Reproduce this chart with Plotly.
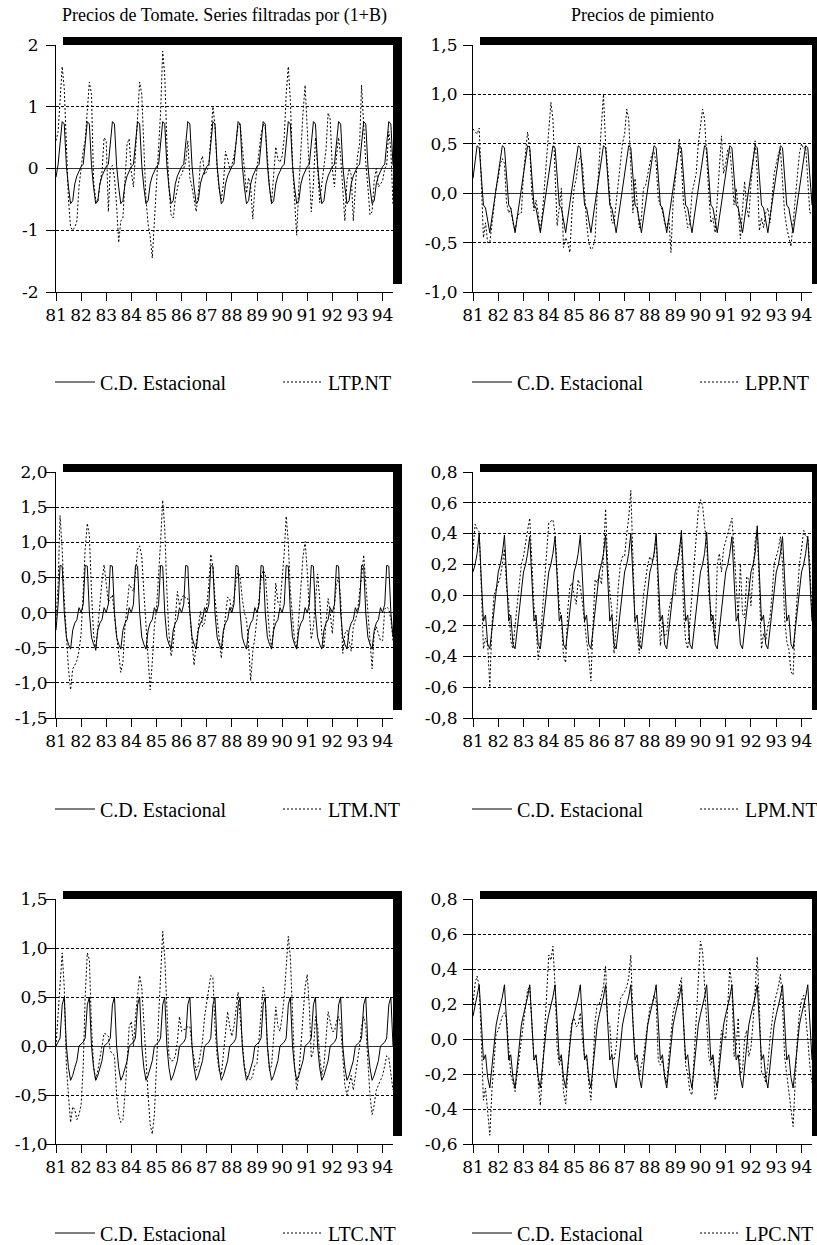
import pandas as pd
import plotly.graph_objects as go

W, H = 817, 1245

# ---------------- data (monthly, 1981M01 .. 1994M06) ----------------
YEAR_LABELS = ["81", "82", "83", "84", "85", "86", "87", "88", "89", "90", "91", "92", "93", "94"]
DATES = pd.date_range("1981-01-01", periods=162, freq="MS")
YEAR_TICKS = pd.date_range("1981-01-01", periods=14, freq="YS")

CD_LTP = [
    -0.14, 0.07, 0.40, 0.76, 0.72, 0.05, -0.30, -0.57, -0.52, -0.25, -0.12, -0.03,
    0.03, 0.07, 0.40, 0.76, 0.72, 0.05, -0.30, -0.57, -0.52, -0.25, -0.12, -0.03,
    0.03, 0.07, 0.40, 0.76, 0.72, 0.05, -0.30, -0.57, -0.52, -0.25, -0.12, -0.03,
    0.03, 0.07, 0.40, 0.76, 0.72, 0.05, -0.30, -0.57, -0.52, -0.25, -0.12, -0.03,
    0.03, 0.07, 0.40, 0.76, 0.72, 0.05, -0.30, -0.57, -0.52, -0.25, -0.12, -0.03,
    0.03, 0.07, 0.40, 0.76, 0.72, 0.05, -0.30, -0.57, -0.52, -0.25, -0.12, -0.03,
    0.03, 0.07, 0.40, 0.76, 0.72, 0.05, -0.30, -0.57, -0.52, -0.25, -0.12, -0.03,
    0.03, 0.07, 0.40, 0.76, 0.72, 0.05, -0.30, -0.57, -0.52, -0.25, -0.12, -0.03,
    0.03, 0.07, 0.40, 0.76, 0.72, 0.05, -0.30, -0.57, -0.52, -0.25, -0.12, -0.03,
    0.03, 0.07, 0.40, 0.76, 0.72, 0.05, -0.30, -0.57, -0.52, -0.25, -0.12, -0.03,
    0.03, 0.07, 0.40, 0.76, 0.72, 0.05, -0.30, -0.57, -0.52, -0.25, -0.12, -0.03,
    0.03, 0.07, 0.40, 0.76, 0.72, 0.05, -0.30, -0.57, -0.52, -0.25, -0.12, -0.03,
    0.03, 0.07, 0.40, 0.76, 0.72, 0.05, -0.30, -0.57, -0.52, -0.25, -0.12, -0.03,
    0.03, 0.07, 0.40, 0.76, 0.72, 0.05,
]
LTP_NT = [
    0.45, 0.60, 1.10, 1.65, 1.30, 0.20, -0.50, -0.95, -1.00, -0.95, -0.85, -0.30,
    0.00, 0.30, 0.45, 1.00, 1.40, 1.20, -0.20, -0.50, -0.55, -0.25, -0.05, 0.50,
    0.45, -0.70, 0.00, 0.05, -0.15, -0.60, -1.20, -0.85, -0.80, -0.20, 0.40, 0.48,
    -0.05, -0.30, 0.30, 0.90, 1.40, 1.20, 0.30, -0.50, -0.90, -1.10, -1.45, -0.90,
    -0.20, 0.30, 0.90, 1.90, 1.50, 0.40, -0.30, -0.75, -0.80, -0.50, -0.30, -0.15,
    -0.10, 0.00, 0.10, 0.45, -0.15, -0.30, -0.50, -0.70, -0.40, 0.10, 0.20, -0.10,
    -0.05, 0.05, 0.50, 1.00, 0.70, 0.00, -0.35, -0.50, -0.25, 0.28, 0.15, 0.00,
    0.05, 0.20, 0.40, 0.70, 0.72, 0.40, 0.00, -0.40, -0.15, -0.30, -0.82, -0.30,
    0.00, 0.30, 0.55, 0.72, 0.65, 0.20, -0.30, -0.55, -0.10, 0.35, 0.15, 0.10,
    0.20, 0.50, 1.20, 1.65, 1.10, 0.10, -0.50, -1.08, -0.30, 0.40, 0.90, 1.35,
    0.60, -0.20, -0.70, -0.25, 0.50, 0.05, -0.55, -0.25, 0.00, 0.30, 0.90, 0.80,
    0.00, -0.30, 0.20, 0.50, 0.20, -0.30, -0.85, -0.20, 0.00, -0.10, -0.85, -0.30,
    0.20, 0.40, 1.35, 0.70, 0.10, -0.30, -0.75, -0.70, -0.20, 0.00, -0.30, -0.25,
    -0.20, 0.00, 0.05, 0.60, 0.30, -0.60,
]

CD_LPP = [
    0.15, 0.33, 0.48, 0.46, 0.17, -0.12, -0.15, -0.28, -0.40, -0.25, -0.10, 0.04,
    0.18, 0.33, 0.48, 0.46, 0.17, -0.12, -0.15, -0.28, -0.40, -0.25, -0.10, 0.04,
    0.18, 0.33, 0.48, 0.46, 0.17, -0.12, -0.15, -0.28, -0.40, -0.25, -0.10, 0.04,
    0.18, 0.33, 0.48, 0.46, 0.17, -0.12, -0.15, -0.28, -0.40, -0.25, -0.10, 0.04,
    0.18, 0.33, 0.48, 0.46, 0.17, -0.12, -0.15, -0.28, -0.40, -0.25, -0.10, 0.04,
    0.18, 0.33, 0.48, 0.46, 0.17, -0.12, -0.15, -0.28, -0.40, -0.25, -0.10, 0.04,
    0.18, 0.33, 0.48, 0.46, 0.17, -0.12, -0.15, -0.28, -0.40, -0.25, -0.10, 0.04,
    0.18, 0.33, 0.48, 0.46, 0.17, -0.12, -0.15, -0.28, -0.40, -0.25, -0.10, 0.04,
    0.18, 0.33, 0.48, 0.46, 0.17, -0.12, -0.15, -0.28, -0.40, -0.25, -0.10, 0.04,
    0.18, 0.33, 0.48, 0.46, 0.17, -0.12, -0.15, -0.28, -0.40, -0.25, -0.10, 0.04,
    0.18, 0.33, 0.48, 0.46, 0.17, -0.12, -0.15, -0.28, -0.40, -0.25, -0.10, 0.04,
    0.18, 0.33, 0.48, 0.46, 0.17, -0.12, -0.15, -0.28, -0.40, -0.25, -0.10, 0.04,
    0.18, 0.33, 0.48, 0.46, 0.17, -0.12, -0.15, -0.28, -0.40, -0.25, -0.10, 0.04,
    0.18, 0.33, 0.48, 0.46, 0.17, -0.12,
]
LPP_NT = [
    0.65, 0.62, 0.60, 0.66, 0.10, -0.45, -0.30, -0.50, -0.50, -0.30, -0.10, 0.05,
    0.15, 0.30, 0.35, 0.30, -0.10, -0.20, -0.15, -0.30, -0.38, -0.25, -0.20, -0.20,
    0.20, 0.45, 0.62, 0.45, 0.00, -0.18, -0.07, -0.20, -0.38, -0.20, 0.10, 0.40,
    0.60, 0.92, 0.75, 0.20, -0.33, -0.15, 0.05, -0.55, -0.45, -0.50, -0.60, -0.20,
    0.05, 0.15, 0.30, 0.38, 0.30, 0.00, -0.30, -0.50, -0.57, -0.55, -0.45, 0.00,
    0.40, 0.70, 1.00, 0.50, 0.25, -0.05, -0.30, -0.30, -0.10, 0.10, 0.30, 0.50,
    0.60, 0.85, 0.75, 0.30, -0.20, 0.15, -0.10, -0.35, -0.25, 0.05, 0.08, 0.20,
    0.30, 0.40, 0.42, 0.30, -0.05, -0.12, -0.18, -0.30, -0.35, -0.25, -0.60, -0.10,
    0.10, 0.35, 0.55, 0.30, -0.10, -0.20, -0.35, -0.30, 0.00, 0.10, 0.20, 0.50,
    0.70, 0.85, 0.75, 0.30, 0.00, -0.30, -0.25, -0.40, -0.10, 0.20, 0.58, 0.20,
    0.30, 0.45, 0.45, 0.20, -0.12, 0.05, -0.15, -0.46, -0.20, 0.12, -0.15, -0.25,
    0.10, 0.30, 0.53, 0.20, -0.38, -0.25, -0.35, -0.20, -0.15, -0.30, 0.00, 0.20,
    0.30, 0.40, 0.45, 0.10, -0.20, -0.35, -0.45, -0.54, -0.30, -0.05, 0.20, 0.40,
    0.50, 0.45, 0.47, 0.10, -0.20, -0.20,
]

CD_LTM = [
    -0.25, 0.12, 0.67, 0.66, 0.00, -0.35, -0.45, -0.52, -0.25, -0.15, -0.10, 0.07,
    0.00, 0.12, 0.67, 0.66, 0.00, -0.35, -0.45, -0.52, -0.25, -0.15, -0.10, 0.07,
    0.00, 0.12, 0.67, 0.66, 0.00, -0.35, -0.45, -0.52, -0.25, -0.15, -0.10, 0.07,
    0.00, 0.12, 0.67, 0.66, 0.00, -0.35, -0.45, -0.52, -0.25, -0.15, -0.10, 0.07,
    0.00, 0.12, 0.67, 0.66, 0.00, -0.35, -0.45, -0.52, -0.25, -0.15, -0.10, 0.07,
    0.00, 0.12, 0.67, 0.66, 0.00, -0.35, -0.45, -0.52, -0.25, -0.15, -0.10, 0.07,
    0.00, 0.12, 0.67, 0.66, 0.00, -0.35, -0.45, -0.52, -0.25, -0.15, -0.10, 0.07,
    0.00, 0.12, 0.67, 0.66, 0.00, -0.35, -0.45, -0.52, -0.25, -0.15, -0.10, 0.07,
    0.00, 0.12, 0.67, 0.66, 0.00, -0.35, -0.45, -0.52, -0.25, -0.15, -0.10, 0.07,
    0.00, 0.12, 0.67, 0.66, 0.00, -0.35, -0.45, -0.52, -0.25, -0.15, -0.10, 0.07,
    0.00, 0.12, 0.67, 0.66, 0.00, -0.35, -0.45, -0.52, -0.25, -0.15, -0.10, 0.07,
    0.00, 0.12, 0.67, 0.66, 0.00, -0.35, -0.45, -0.52, -0.25, -0.15, -0.10, 0.07,
    0.00, 0.12, 0.67, 0.66, 0.00, -0.35, -0.45, -0.52, -0.25, -0.15, -0.10, 0.07,
    0.00, 0.12, 0.67, 0.66, 0.00, -0.35,
]
LTM_NT = [
    -0.10, 0.40, 1.38, 0.90, 0.20, -0.40, -0.80, -1.10, -0.80, -0.75, -0.68, -0.55,
    -0.30, 0.30, 0.90, 1.27, 1.10, 0.30, -0.30, -0.55, -0.20, 0.20, 0.45, 0.68,
    0.40, 0.15, 0.20, 0.25, -0.05, -0.35, -0.60, -0.85, -0.70, -0.20, 0.10, 0.40,
    0.35, 0.30, 0.55, 0.90, 0.95, 0.80, 0.30, -0.20, -0.60, -1.10, -0.70, -0.20,
    0.05, 0.50, 1.00, 1.60, 1.20, 0.30, -0.30, -0.62, -0.45, -0.10, 0.30, 0.10,
    0.20, 0.25, 0.20, 0.20, 0.00, -0.40, -0.75, -0.45, -0.20, 0.02, -0.20, -0.15,
    0.10, 0.40, 0.83, 0.65, 0.20, -0.10, -0.35, -0.65, -0.30, 0.00, 0.22, 0.20,
    0.00, 0.20, 0.45, 0.60, 0.50, 0.20, 0.00, -0.10, -0.45, -0.97, -0.55, -0.35,
    -0.10, 0.20, 0.50, 0.60, 0.55, 0.10, -0.30, -0.50, -0.20, 0.42, 0.15, 0.10,
    0.45, 0.85, 1.37, 1.00, 0.30, -0.10, -0.40, -0.50, -0.05, 0.50, 0.80, 1.01,
    0.60, 0.00, -0.38, -0.20, 0.15, 0.55, 0.20, -0.30, -0.50, -0.10, 0.20, 0.00,
    -0.30, 0.10, 0.40, 0.50, 0.20, -0.58, -0.30, -0.25, -0.40, -0.55, -0.20, -0.10,
    0.00, 0.30, 0.50, 0.82, 0.40, 0.00, -0.35, -0.80, -0.30, -0.20, -0.30, -0.40,
    -0.40, 0.05, 0.08, 0.05, -0.10, -0.40,
]

CD_LPM = [
    0.15, 0.20, 0.27, 0.40, 0.10, -0.17, -0.13, -0.32, -0.35, -0.22, -0.10, 0.03,
    0.15, 0.20, 0.27, 0.39, 0.10, -0.17, -0.13, -0.32, -0.35, -0.22, -0.10, 0.03,
    0.15, 0.20, 0.27, 0.38, 0.10, -0.17, -0.13, -0.32, -0.35, -0.22, -0.10, 0.03,
    0.15, 0.20, 0.27, 0.38, 0.10, -0.17, -0.13, -0.32, -0.35, -0.22, -0.10, 0.03,
    0.15, 0.20, 0.27, 0.39, 0.10, -0.17, -0.13, -0.32, -0.35, -0.22, -0.10, 0.03,
    0.15, 0.20, 0.27, 0.39, 0.10, -0.17, -0.13, -0.32, -0.35, -0.22, -0.10, 0.03,
    0.15, 0.20, 0.27, 0.40, 0.10, -0.17, -0.13, -0.32, -0.35, -0.22, -0.10, 0.03,
    0.15, 0.20, 0.27, 0.40, 0.10, -0.17, -0.13, -0.32, -0.35, -0.22, -0.10, 0.03,
    0.15, 0.20, 0.27, 0.42, 0.10, -0.17, -0.13, -0.32, -0.35, -0.22, -0.10, 0.03,
    0.15, 0.20, 0.27, 0.41, 0.10, -0.17, -0.13, -0.32, -0.35, -0.22, -0.10, 0.03,
    0.15, 0.20, 0.27, 0.38, 0.10, -0.17, -0.13, -0.32, -0.35, -0.22, -0.10, 0.03,
    0.15, 0.20, 0.27, 0.45, 0.10, -0.17, -0.13, -0.32, -0.35, -0.22, -0.10, 0.03,
    0.15, 0.20, 0.27, 0.38, 0.10, -0.17, -0.13, -0.32, -0.35, -0.22, -0.10, 0.03,
    0.15, 0.20, 0.27, 0.38, 0.10, -0.17,
]
LPM_NT = [
    0.30, 0.46, 0.43, 0.41, 0.05, -0.35, -0.28, -0.32, -0.60, -0.20, 0.00, 0.04,
    0.08, 0.12, 0.20, 0.30, 0.05, -0.05, -0.30, -0.35, -0.20, -0.05, 0.10, 0.20,
    0.25, 0.35, 0.42, 0.50, 0.20, -0.07, -0.20, -0.42, -0.30, -0.10, 0.10, 0.30,
    0.47, 0.48, 0.49, 0.40, 0.20, -0.08, -0.15, -0.40, -0.44, -0.10, 0.05, 0.08,
    0.00, -0.06, 0.10, 0.05, -0.05, -0.20, -0.30, -0.40, -0.56, -0.20, 0.10, 0.08,
    0.13, 0.07, 0.25, 0.56, 0.20, 0.02, -0.10, -0.38, -0.20, 0.05, 0.20, 0.25,
    0.25, 0.40, 0.50, 0.68, 0.20, -0.20, -0.25, -0.38, -0.20, 0.00, 0.10, 0.20,
    0.25, 0.22, 0.25, 0.38, 0.00, -0.33, -0.17, -0.27, -0.25, -0.10, -0.03, 0.00,
    0.00, 0.20, 0.30, 0.38, -0.10, -0.30, -0.35, -0.20, 0.00, 0.20, 0.40, 0.55,
    0.62, 0.58, 0.45, 0.35, 0.00, -0.10, -0.20, -0.30, 0.20, 0.27, 0.15, 0.30,
    0.35, 0.40, 0.45, 0.50, 0.30, 0.10, -0.15, 0.20, -0.12, -0.15, 0.12, 0.10,
    -0.07, 0.15, 0.35, 0.42, 0.00, -0.35, -0.25, -0.30, -0.20, -0.15, 0.00, 0.20,
    0.25, 0.30, 0.38, 0.20, -0.15, -0.30, -0.35, -0.50, -0.52, -0.20, 0.00, 0.20,
    0.30, 0.42, 0.38, 0.38, 0.20, -0.15,
]

CD_LTC = [
    0.00, 0.04, 0.08, 0.42, 0.50, 0.00, -0.22, -0.35, -0.30, -0.22, -0.15, 0.00,
    0.02, 0.04, 0.08, 0.42, 0.50, 0.00, -0.22, -0.35, -0.30, -0.22, -0.15, 0.00,
    0.02, 0.04, 0.08, 0.42, 0.50, 0.00, -0.22, -0.35, -0.30, -0.22, -0.15, 0.00,
    0.02, 0.04, 0.08, 0.42, 0.50, 0.00, -0.22, -0.35, -0.30, -0.22, -0.15, 0.00,
    0.02, 0.04, 0.08, 0.42, 0.50, 0.00, -0.22, -0.35, -0.30, -0.22, -0.15, 0.00,
    0.02, 0.04, 0.08, 0.42, 0.50, 0.00, -0.22, -0.35, -0.30, -0.22, -0.15, 0.00,
    0.02, 0.04, 0.08, 0.42, 0.50, 0.00, -0.22, -0.35, -0.30, -0.22, -0.15, 0.00,
    0.02, 0.04, 0.08, 0.42, 0.50, 0.00, -0.22, -0.35, -0.30, -0.22, -0.15, 0.00,
    0.02, 0.04, 0.08, 0.42, 0.50, 0.00, -0.22, -0.35, -0.30, -0.22, -0.15, 0.00,
    0.02, 0.04, 0.08, 0.42, 0.50, 0.00, -0.22, -0.35, -0.30, -0.22, -0.15, 0.00,
    0.02, 0.04, 0.08, 0.42, 0.50, 0.00, -0.22, -0.35, -0.30, -0.22, -0.15, 0.00,
    0.02, 0.04, 0.08, 0.42, 0.50, 0.00, -0.22, -0.35, -0.30, -0.22, -0.15, 0.00,
    0.02, 0.04, 0.08, 0.42, 0.50, 0.00, -0.22, -0.35, -0.30, -0.22, -0.15, 0.00,
    0.02, 0.04, 0.08, 0.42, 0.50, 0.00,
]
LTC_NT = [
    0.00, 0.30, 0.60, 0.95, 0.60, -0.20, -0.50, -0.78, -0.62, -0.65, -0.75, -0.70,
    -0.60, -0.20, 0.50, 0.95, 0.88, 0.20, -0.20, -0.35, -0.25, -0.10, 0.00, 0.13,
    0.12, 0.10, -0.05, -0.08, -0.10, -0.50, -0.70, -0.78, -0.75, -0.50, -0.10, 0.20,
    0.25, 0.00, 0.30, 0.50, 0.72, 0.60, 0.20, -0.20, -0.50, -0.80, -0.90, -0.70,
    -0.10, 0.30, 0.70, 1.17, 0.90, 0.30, -0.10, -0.15, -0.15, -0.10, 0.05, 0.30,
    0.15, 0.17, 0.17, 0.20, 0.20, 0.00, -0.15, -0.25, -0.20, -0.05, 0.05, 0.30,
    0.45, 0.60, 0.72, 0.70, 0.20, -0.10, -0.25, -0.30, -0.10, 0.10, 0.35, 0.20,
    0.10, 0.20, 0.35, 0.55, 0.30, 0.00, -0.20, -0.30, -0.33, -0.35, -0.30, -0.20,
    -0.18, 0.10, 0.40, 0.60, 0.50, 0.00, -0.25, -0.20, 0.10, 0.40, 0.20, 0.15,
    0.30, 0.50, 0.80, 1.12, 0.90, 0.30, -0.20, -0.45, -0.30, 0.00, 0.30, 0.60,
    0.73, 0.40, -0.12, -0.05, 0.30, 0.20, -0.10, -0.30, -0.20, 0.10, 0.35, 0.25,
    0.15, 0.15, 0.25, 0.30, 0.20, -0.10, -0.40, -0.50, -0.40, -0.30, -0.45, -0.30,
    -0.15, 0.00, 0.20, 0.30, 0.20, -0.20, -0.50, -0.70, -0.60, -0.45, -0.40, -0.35,
    -0.30, -0.20, -0.10, -0.12, -0.30, -0.45,
]

CD_LPC = [
    0.13, 0.19, 0.24, 0.31, 0.10, -0.12, -0.09, -0.22, -0.28, -0.15, -0.02, 0.08,
    0.14, 0.19, 0.24, 0.31, 0.10, -0.12, -0.09, -0.22, -0.28, -0.15, -0.02, 0.08,
    0.14, 0.19, 0.24, 0.31, 0.10, -0.12, -0.09, -0.22, -0.28, -0.15, -0.02, 0.08,
    0.14, 0.19, 0.24, 0.31, 0.10, -0.12, -0.09, -0.22, -0.28, -0.15, -0.02, 0.08,
    0.14, 0.19, 0.24, 0.31, 0.10, -0.12, -0.09, -0.22, -0.28, -0.15, -0.02, 0.08,
    0.14, 0.19, 0.24, 0.31, 0.10, -0.12, -0.09, -0.22, -0.28, -0.15, -0.02, 0.08,
    0.14, 0.19, 0.24, 0.31, 0.10, -0.12, -0.09, -0.22, -0.28, -0.15, -0.02, 0.08,
    0.14, 0.19, 0.24, 0.31, 0.10, -0.12, -0.09, -0.22, -0.28, -0.15, -0.02, 0.08,
    0.14, 0.19, 0.24, 0.31, 0.10, -0.12, -0.09, -0.22, -0.28, -0.15, -0.02, 0.08,
    0.14, 0.19, 0.24, 0.31, 0.10, -0.12, -0.09, -0.22, -0.28, -0.15, -0.02, 0.08,
    0.14, 0.19, 0.24, 0.31, 0.10, -0.12, -0.09, -0.22, -0.28, -0.15, -0.02, 0.08,
    0.14, 0.19, 0.24, 0.31, 0.10, -0.12, -0.09, -0.22, -0.28, -0.15, -0.02, 0.08,
    0.14, 0.19, 0.24, 0.31, 0.10, -0.12, -0.09, -0.22, -0.28, -0.15, -0.02, 0.08,
    0.14, 0.19, 0.24, 0.31, 0.10, -0.12,
]
LPC_NT = [
    0.20, 0.32, 0.36, 0.30, 0.00, -0.35, -0.28, -0.40, -0.55, -0.30, -0.10, 0.03,
    0.05, 0.10, 0.13, 0.15, 0.12, -0.05, -0.20, -0.25, -0.30, -0.20, -0.10, 0.00,
    0.10, 0.20, 0.28, 0.30, 0.05, -0.12, -0.10, -0.25, -0.38, -0.20, 0.05, 0.25,
    0.48, 0.45, 0.53, 0.30, -0.05, -0.15, -0.10, -0.30, -0.37, -0.20, 0.00, 0.10,
    0.12, 0.07, 0.08, 0.15, 0.00, -0.10, -0.10, -0.25, -0.35, -0.15, 0.10, 0.20,
    0.20, 0.25, 0.30, 0.42, 0.10, 0.08, -0.10, -0.12, -0.05, 0.10, 0.23, 0.25,
    0.27, 0.30, 0.35, 0.48, 0.10, -0.10, -0.15, -0.20, -0.15, -0.10, 0.00, 0.10,
    0.18, 0.20, 0.25, 0.22, -0.12, -0.15, -0.12, -0.20, -0.25, -0.10, 0.05, 0.15,
    0.20, 0.22, 0.30, 0.35, 0.10, -0.15, -0.20, -0.30, -0.32, -0.10, 0.10, 0.35,
    0.56, 0.50, 0.30, 0.10, -0.10, -0.15, -0.10, -0.35, -0.30, -0.10, 0.05, 0.02,
    0.00, 0.20, 0.41, 0.30, -0.10, -0.05, 0.12, -0.20, -0.18, 0.00, 0.05, -0.10,
    -0.05, 0.10, 0.30, 0.47, 0.20, -0.20, -0.20, -0.25, -0.15, 0.00, 0.10, 0.20,
    0.25, 0.30, 0.37, 0.20, -0.10, -0.20, -0.30, -0.40, -0.50, -0.25, 0.00, 0.15,
    0.22, 0.25, 0.15, 0.00, -0.15, -0.25,
]

TITLES = ["Precios de Tomate. Series filtradas por (1+B)", "Precios de pimiento"]
SERIES_NAMES = ["LTP.NT", "LPP.NT", "LTM.NT", "LPM.NT", "LTC.NT", "LPC.NT"]
SEASONAL_NAME = "C.D. Estacional"

Y_TICKS = [
    ([-2, -1, 0, 1, 2], ["-2", "-1", "0", "1", "2"]),
    ([-1.0, -0.5, 0.0, 0.5, 1.0, 1.5], ["-1,0", "-0,5", "0,0", "0,5", "1,0", "1,5"]),
    ([-1.5, -1.0, -0.5, 0.0, 0.5, 1.0, 1.5, 2.0],
     ["-1,5", "-1,0", "-0,5", "0,0", "0,5", "1,0", "1,5", "2,0"]),
    ([-0.8, -0.6, -0.4, -0.2, 0.0, 0.2, 0.4, 0.6, 0.8],
     ["-0,8", "-0,6", "-0,4", "-0,2", "0,0", "0,2", "0,4", "0,6", "0,8"]),
    ([-1.0, -0.5, 0.0, 0.5, 1.0, 1.5], ["-1,0", "-0,5", "0,0", "0,5", "1,0", "1,5"]),
    ([-0.6, -0.4, -0.2, 0.0, 0.2, 0.4, 0.6, 0.8],
     ["-0,6", "-0,4", "-0,2", "0,0", "0,2", "0,4", "0,6", "0,8"]),
]
Y_RANGES = [[-2, 2], [-1.0, 1.5], [-1.5, 2.0], [-0.8, 0.8], [-1.0, 1.5], [-0.6, 0.8]]

SEASONALS = [CD_LTP, CD_LPP, CD_LTM, CD_LPM, CD_LTC, CD_LPC]
ACTUALS = [LTP_NT, LPP_NT, LTM_NT, LPM_NT, LTC_NT, LPC_NT]

# ---------------- layout geometry (pixels) ----------------
COL_L = [56, 473]
COL_R = [393, 812]
ROW_T = [45, 472, 899]
ROW_B = [292, 718, 1144]
LEGEND_Y = [382, 809, 1233]
YLAB_STANDOFF = [4, 2, -5, 2, -5, 2]

SERIF = "Liberation Serif"
TICKFONT = dict(family="DejaVu Serif", size=17, color="black")


def px(x):
    return x / W


def py(y):
    return 1 - y / H


fig = go.Figure()
shapes = []
annotations = []
layout = dict(
    width=W, height=H,
    margin=dict(l=0, r=0, t=0, b=0, autoexpand=False),
    paper_bgcolor="white", plot_bgcolor="white",
    font=dict(family=SERIF, size=20, color="black"),
    showlegend=True,
)

for k in range(6):
    r, c = divmod(k, 2)
    L, R, T, B = COL_L[c], COL_R[c], ROW_T[r], ROW_B[r]
    sx = "" if k == 0 else str(k + 1)
    xa, ya = "x" + sx, "y" + sx
    lg_s = "legend" + ("" if k == 0 else str(2 * k + 1))
    lg_a = "legend" + str(2 * k + 2)

    fig.add_trace(go.Scatter(
        x=DATES, y=SEASONALS[k], mode="lines", name=SEASONAL_NAME,
        line=dict(color="black", width=1), xaxis=xa, yaxis=ya, legend=lg_s,
    ))
    fig.add_trace(go.Scatter(
        x=DATES, y=ACTUALS[k], mode="lines", name=SERIES_NAMES[k],
        line=dict(color="black", width=1, dash="2px,2px"), xaxis=xa, yaxis=ya, legend=lg_a,
    ))

    layout["xaxis" + sx] = dict(
        domain=[px(L), px(R)], anchor=ya, automargin=False,
        range=[DATES[0], DATES[-1]],
        tickmode="array", tickvals=list(YEAR_TICKS), ticktext=YEAR_LABELS,
        ticks="outside", ticklen=8, tickwidth=1, tickcolor="black",
        showline=True, linecolor="black", linewidth=1,
        showgrid=False, zeroline=False, tickfont=TICKFONT, fixedrange=True,
    )
    layout["yaxis" + sx] = dict(
        domain=[py(B), py(T)], anchor=xa, automargin=False,
        range=Y_RANGES[k],
        tickmode="array", tickvals=Y_TICKS[k][0], ticktext=Y_TICKS[k][1],
        ticks="outside", ticklen=9, tickwidth=1, tickcolor="black",
        ticklabelstandoff=YLAB_STANDOFF[k],
        showline=True, linecolor="black", linewidth=1,
        showgrid=True, gridcolor="black", gridwidth=1, griddash="3px,2px",
        zeroline=True, zerolinecolor="#333333", zerolinewidth=1,
        tickfont=TICKFONT, fixedrange=True,
    )

    # drop shadow frame (black, offset up/right) + white plot face
    shapes.append(dict(type="rect", xref="paper", yref="paper", layer="below",
                       x0=px(L + 7), x1=px(R + 9), y0=py(B - 8), y1=py(T - 8),
                       fillcolor="black", line=dict(width=0)))
    shapes.append(dict(type="rect", xref="paper", yref="paper", layer="below",
                       x0=px(L), x1=px(R), y0=py(B), y1=py(T),
                       fillcolor="white", line=dict(width=0)))

    legfont = dict(family=SERIF, size=20, color="black")
    layout[lg_s] = dict(x=px(L - 6), y=py(LEGEND_Y[r]), xanchor="left", yanchor="middle",
                        orientation="h", bgcolor="rgba(0,0,0,0)", borderwidth=0,
                        font=legfont, itemwidth=40)
    layout[lg_a] = dict(x=px(L + 222), y=py(LEGEND_Y[r]), xanchor="left", yanchor="middle",
                        orientation="h", bgcolor="rgba(0,0,0,0)", borderwidth=0,
                        font=legfont, itemwidth=40)

for c in range(2):
    annotations.append(dict(
        text=TITLES[c], xref="paper", yref="paper",
        x=px((COL_L[c] + COL_R[c]) / 2), y=py(15), xanchor="center", yanchor="middle",
        showarrow=False, font=dict(family=SERIF, size=18, color="black"),
    ))

layout["shapes"] = shapes
layout["annotations"] = annotations
fig.update_layout(**layout)
fig.write_html("out.html", config={"displayModeBar": False},
               post_script="document.body.style.margin='0';")
